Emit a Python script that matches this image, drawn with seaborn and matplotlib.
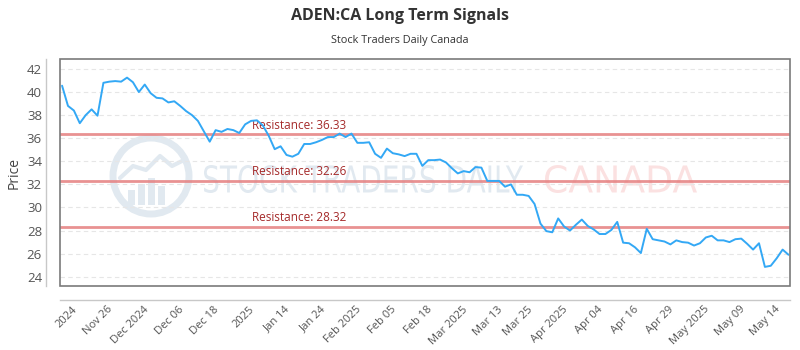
import numpy as np
import pandas as pd
import matplotlib
matplotlib.use("Agg")
import matplotlib.pyplot as plt
from matplotlib.patches import Rectangle, Ellipse, PathPatch
from matplotlib.textpath import TextPath
from matplotlib.font_manager import FontProperties
from matplotlib.transforms import Affine2D
import seaborn as sns

# Daily closing prices, oldest to newest
prices = [
    40.55, 38.8, 38.4, 37.3, 38.0, 38.5, 37.95, 40.8, 40.9, 40.95,
    40.9, 41.25, 40.85, 40.0, 40.65, 39.9, 39.5, 39.45, 39.1, 39.2,
    38.8, 38.35, 38.0, 37.5, 36.6, 35.7, 36.7, 36.55, 36.8, 36.7,
    36.45, 37.2, 37.5, 37.55, 37.1, 36.2, 35.05, 35.3, 34.55, 34.4,
    34.65, 35.5, 35.5, 35.65, 35.85, 36.1, 36.1, 36.4, 36.1, 36.4,
    35.6, 35.6, 35.65, 34.65, 34.3, 35.1, 34.7, 34.6, 34.45, 34.65,
    34.65, 33.6, 34.1, 34.1, 34.15, 33.9, 33.4, 32.95, 33.15, 33.05,
    33.5, 33.45, 32.3, 32.3, 32.3, 31.8, 32.0, 31.1, 31.1, 31.0,
    30.3, 28.6, 27.95, 27.85, 29.05, 28.35, 28.0, 28.5, 28.95, 28.4,
    28.1, 27.7, 27.7, 28.05, 28.75, 26.95, 26.9, 26.55, 26.05, 28.15,
    27.25, 27.15, 27.05, 26.8, 27.15, 27.0, 26.95, 26.7, 26.9, 27.4,
    27.55, 27.15, 27.15, 27.0, 27.25, 27.3, 26.85, 26.35, 26.9, 24.85,
    24.95, 25.6, 26.35, 25.9,
]

# Resistance levels
resistance = [36.33, 32.26, 28.32]

# Date labels and the trading-day positions they sit at
tick_labels = [
    "2024", "Nov 26", "Dec 2024", "Dec 06", "Dec 18", "2025", "Jan 14",
    "Jan 24", "Feb 2025", "Feb 05", "Feb 18", "Mar 2025", "Mar 13",
    "Mar 25", "Apr 2025", "Apr 04", "Apr 16", "Apr 29", "May 2025",
    "May 09", "May 14",
]
tick_pos = [3, 9, 15, 21, 27, 33, 39, 45, 51, 57, 63, 69, 75, 80, 86,
            92, 98, 104, 110, 116, 122]

y_ticks = [24, 26, 28, 30, 32, 34, 36, 38, 40, 42]

df = pd.DataFrame({"day": np.arange(len(prices)), "price": prices})

sns.set_style("white")
plt.rcParams["font.family"] = ["Open Sans", "DejaVu Sans"]

W, H = 800, 350
fig = plt.figure(figsize=(W / 100, H / 100), dpi=100)
ax = fig.add_axes([0.075, 0.183, 0.9125, 0.648])

# Pixel placement (origin top-left) for the background watermark
px = Affine2D().scale(1 / W, -1 / H).translate(0, 1) + fig.transFigure

wm_blue = "#e1e9f0"
wm_pink = "#fbe1e1"
ax.add_patch(Ellipse((151, 176), 76, 76, transform=px, fill=False,
                     edgecolor=wm_blue, linewidth=5, zorder=0))
for bx, top in [(128, 190), (138, 184), (148, 178), (158, 186)]:
    ax.add_patch(Rectangle((bx, top), 7, 205 - top, transform=px,
                           facecolor=wm_blue, edgecolor="none", zorder=0))
ax.plot([120, 133, 146, 160, 172, 184], [178, 166, 170, 156, 166, 160],
        transform=px, color=wm_blue, lw=3, zorder=0)


def stretched_word(text, x0, x1, y_top, y_bot, color):
    """Draw a word filling the pixel box [x0, x1] x [y_top, y_bot]."""
    tp = TextPath((0, 0), text, size=1,
                  prop=FontProperties(family="DejaVu Sans"))
    ext = tp.get_extents()
    sx = (x1 - x0) / ext.width
    sy = (y_bot - y_top) / ext.height
    tr = (Affine2D().translate(-ext.x0, -ext.y0).scale(sx, -sy)
          .translate(x0, y_bot) + px)
    ax.add_patch(PathPatch(tp, transform=tr, facecolor=color,
                           edgecolor="none", zorder=0))


stretched_word("STOCK TRADERS DAILY", 204, 523, 165, 193, wm_blue)
stretched_word("CANADA", 545, 697, 165, 193, wm_pink)

# Horizontal dashed grid
for yv in y_ticks:
    ax.axhline(yv, color="#e6e6e6", lw=0.8, ls=(0, (4, 3)), zorder=1)

# Resistance lines with labels
for r in resistance:
    ax.axhline(r, color="#e57f7f", lw=2, alpha=0.85, zorder=2)
    ax.text(32.2, r + 0.25, f"Resistance: {r:.2f}", color="#a52a2a",
            fontsize=8.5, ha="left", va="bottom", zorder=3)

sns.lineplot(data=df, x="day", y="price", ax=ax, color="#33a8f5",
             lw=1.4, zorder=4)

# Offset axis lines plus a darker frame around the plotting area
# (spines are positioned first, since that resets the tick labels)
for side in ["top", "right"]:
    ax.spines[side].set_visible(False)
for side in ["left", "bottom"]:
    ax.spines[side].set_position(("outward", 10))
    ax.spines[side].set_color("#c8c8c8")
    ax.spines[side].set_linewidth(1)
ax.add_patch(Rectangle((0, 0), 1, 1, transform=ax.transAxes, fill=False,
                       edgecolor="#7a7a7a", lw=1.2, zorder=5, clip_on=False))

ax.set_xlim(-0.35, 123.25)
ax.set_ylim(23.2, 42.85)
ax.set_yticks(y_ticks)
ax.set_xticks(tick_pos)
ax.set_xticklabels(tick_labels)
ax.tick_params(axis="y", labelsize=9.5, labelcolor="#555555", length=0, pad=3)
ax.tick_params(axis="x", labelsize=8, labelcolor="#555555", length=0, pad=3)
plt.setp(ax.get_xticklabels(), rotation=45, ha="right",
         rotation_mode="default")
ax.set_xlabel("")
ax.set_ylabel("Price", fontsize=10, color="#444444", labelpad=4)

fig.text(0.5, 0.955, "ADEN:CA Long Term Signals", ha="center", va="center",
         fontsize=11.5, fontweight="bold", color="#333333")
fig.text(0.5, 0.885, "Stock Traders Daily Canada", ha="center", va="center",
         fontsize=7.8, color="#333333")

fig.savefig("out.png", dpi=100)
